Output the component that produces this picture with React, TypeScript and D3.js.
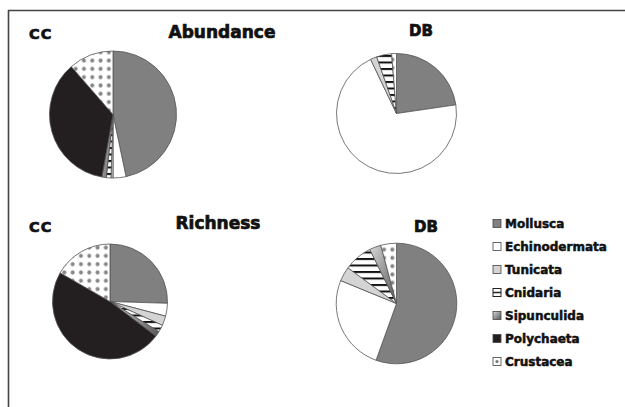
import React from "react";
import * as d3 from "d3";

const categories = ["Mollusca", "Echinodermata", "Tunicata", "Cnidaria", "Sipunculida", "Polychaeta", "Crustacea"];
const ccAbundance = [46.7, 3.3, 0.5, 1.2, 1.1, 35.8, 11.4];
const dbAbundance = [22.7, 70.2, 1.75, 4.05, 0, 0, 1.3];
const ccRichness = [25.5, 3.6, 2.7, 2.0, 1.5, 48.0, 16.7];
const dbRichness = [55.5, 25.7, 3.9, 7.6, 3.1, 0, 4.2];

const fills = [
  "#808080",
  "#ffffff",
  "#d4d4d4",
  "url(#stripes)",
  "url(#sipGrad)",
  "#231f20",
  "url(#dots)",
];

const FONT = "'DejaVu Sans', sans-serif";

type PieProps = { values: number[]; cx: number; cy: number; r: number };

function Pie({ values, cx, cy, r }: PieProps) {
  const pie = d3.pie<number>().sort(null).value((d) => d)(values);
  const arc = d3.arc<d3.PieArcDatum<number>>().innerRadius(0).outerRadius(r);
  return (
    <g transform={`translate(${cx},${cy})`}>
      {pie.map((p, i) =>
        p.value > 0 ? (
          <path key={i} d={arc(p) || ""} fill={fills[i]} stroke="#555" strokeWidth={0.8} strokeLinejoin="round" />
        ) : null
      )}
    </g>
  );
}

export default function App() {
  const legendY = d3.scaleLinear().domain([0, categories.length - 1]).range([223.5, 361.5]);
  const titleStyle = { fontFamily: FONT, fontWeight: 700, fill: "#111", stroke: "#111", strokeWidth: 0.7 } as const;
  return (
    <svg width={625} height={407} style={{ position: "absolute", left: 0, top: 0, display: "block", background: "#fff" }}>
      <defs>
        <pattern id="stripes" patternUnits="userSpaceOnUse" width={8} height={6.5}>
          <rect width={8} height={6.5} fill="#fff" />
          <rect y={0} width={8} height={2} fill="#111" />
        </pattern>
        <pattern id="dots" patternUnits="userSpaceOnUse" width={8.3} height={8.3}>
          <rect width={8.3} height={8.3} fill="#fff" />
          <circle cx={4.15} cy={4.15} r={2} fill="#868686" />
        </pattern>
        <linearGradient id="sipGrad" x1="0" y1="0" x2="1" y2="1">
          <stop offset="0" stopColor="#d8d8d8" />
          <stop offset="1" stopColor="#555" />
        </linearGradient>
      </defs>

      <line x1={8} y1={10.5} x2={625} y2={10.5} stroke="#444" strokeWidth={1.6} />
      <line x1={8.5} y1={10} x2={8.5} y2={407} stroke="#444" strokeWidth={1.6} />

      <text x={29} y={39} fontSize={14.5} letterSpacing={1} {...titleStyle}>CC</text>
      <text x={222} y={38} fontSize={17} textAnchor="middle" {...titleStyle}>Abundance</text>
      <text x={421} y={35.5} fontSize={15} textAnchor="middle" {...titleStyle}>DB</text>
      <text x={29} y={232} fontSize={14.5} letterSpacing={1} {...titleStyle}>CC</text>
      <text x={218} y={229} fontSize={17} textAnchor="middle" {...titleStyle}>Richness</text>
      <text x={426} y={232} fontSize={15} textAnchor="middle" {...titleStyle}>DB</text>

      <Pie values={ccAbundance} cx={113} cy={114.5} r={63.5} />
      <Pie values={dbAbundance} cx={396.5} cy={113.5} r={60} />
      <Pie values={ccRichness} cx={110} cy={301.5} r={57.5} />
      <Pie values={dbRichness} cx={396.5} cy={303.5} r={60.3} />

      {categories.map((c, i) => {
        const y = legendY(i);
        const x = 493;
        let swatch: React.ReactNode;
        if (i === 3) {
          swatch = (
            <g>
              <rect x={x} y={y - 4} width={8} height={8} fill="#fff" stroke="#222" strokeWidth={1} />
              <line x1={x} y1={y} x2={x + 8} y2={y} stroke="#222" strokeWidth={1.5} />
            </g>
          );
        } else if (i === 6) {
          swatch = (
            <g>
              <rect x={x} y={y - 4} width={8} height={8} fill="#fff" stroke="#444" strokeWidth={0.8} />
              <circle cx={x + 4} cy={y} r={1.6} fill="#777" />
            </g>
          );
        } else {
          swatch = <rect x={x} y={y - 4} width={8} height={8} fill={fills[i]} stroke="#444" strokeWidth={0.8} />;
        }
        return (
          <g key={c}>
            {swatch}
            <text x={505} y={y + 4.3} fontSize={12} fontFamily={FONT} fontWeight={700} fill="#111" stroke="#111" strokeWidth={0.5}>
              {c}
            </text>
          </g>
        );
      })}
    </svg>
  );
}
